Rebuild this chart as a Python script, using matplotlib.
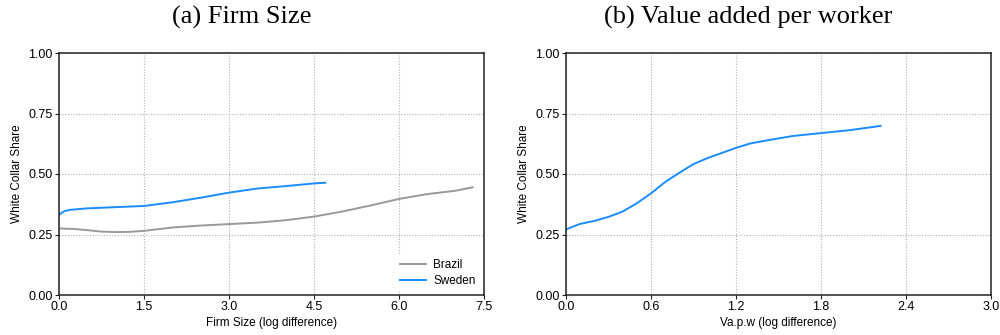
import matplotlib
matplotlib.use("Agg")
import matplotlib.pyplot as plt

# Panel (a): Firm size
brazil_x = [0.0, 0.25, 0.5, 0.75, 1.0, 1.25, 1.5, 1.75, 2.0, 2.5, 3.0, 3.5, 4.0, 4.5, 5.0, 5.5, 6.0, 6.5, 7.0, 7.3]
brazil_y = [0.275, 0.273, 0.268, 0.262, 0.260, 0.261, 0.265, 0.272, 0.279, 0.287, 0.293, 0.299, 0.309, 0.324, 0.345, 0.370, 0.397, 0.417, 0.431, 0.445]
sweden_x = [0.0, 0.05, 0.1, 0.2, 0.5, 1.0, 1.5, 2.0, 2.5, 3.0, 3.5, 4.0, 4.5, 4.7]
sweden_y = [0.331, 0.340, 0.347, 0.352, 0.358, 0.363, 0.368, 0.383, 0.402, 0.423, 0.440, 0.450, 0.461, 0.464]

# Panel (b): Value added per worker
vapw_x = [0.0, 0.1, 0.2, 0.3, 0.4, 0.5, 0.6, 0.7, 0.8, 0.9, 1.0, 1.1, 1.2, 1.3, 1.4, 1.5, 1.6, 1.8, 2.0, 2.2, 2.22]
vapw_y = [0.271, 0.294, 0.306, 0.323, 0.345, 0.379, 0.420, 0.467, 0.505, 0.541, 0.566, 0.587, 0.608, 0.626, 0.637, 0.647, 0.657, 0.669, 0.681, 0.697, 0.699]

titles = ["(a) Firm Size", "(b) Value added per worker"]
xlabels = ["Firm Size (log difference)", "Va.p.w (log difference)"]
xticks_a = [0.0, 1.5, 3.0, 4.5, 6.0, 7.5]
xticks_b = [0.0, 0.6, 1.2, 1.8, 2.4, 3.0]
yticks = [0.0, 0.25, 0.5, 0.75, 1.0]

BLUE = "#1a8cff"
GRAY = "#999999"

plt.rcParams['font.family'] = ['Liberation Sans', 'DejaVu Sans']

fig = plt.figure(figsize=(10, 3.35), dpi=100)
W, H = 1000, 335
ax1 = fig.add_axes([59/W, 1-295/H, (484-59)/W, (295-53)/H])
ax2 = fig.add_axes([566/W, 1-295/H, (991-566)/W, (295-53)/H])

ax1.plot(brazil_x, brazil_y, color=GRAY, lw=1.4, label="Brazil")
ax1.plot(sweden_x, sweden_y, color=BLUE, lw=1.4, label="Sweden")
ax2.plot(vapw_x, vapw_y, color=BLUE, lw=1.4)

for ax, xl, xt in [(ax1, xlabels[0], xticks_a), (ax2, xlabels[1], xticks_b)]:
    ax.set_xlim(xt[0], xt[-1])
    ax.set_ylim(0, 1)
    ax.set_xticks(xt)
    ax.set_xticklabels([f"{v:.1f}" for v in xt])
    ax.set_yticks(yticks)
    ax.set_yticklabels([f"{v:.2f}" for v in yticks])
    ax.grid(True, color="#b0b0b0", linestyle=(0, (1, 1.5)), linewidth=0.8)
    ax.set_axisbelow(True)
    ax.tick_params(direction="out", length=3, width=0.8, labelsize=9, pad=1.5, color="#222222")
    for s in ax.spines.values():
        s.set_linewidth(1.1)
        s.set_color("#222222")
    ax.set_xlabel(xl, fontsize=8.5, labelpad=3)
    ax.set_ylabel("White Collar Share", fontsize=8.5, labelpad=4)

fig.text(242/W, 1-24/H, titles[0], fontsize=19, family="Liberation Serif", ha="center", va="baseline")
fig.text(748/W, 1-24/H, titles[1], fontsize=19, family="Liberation Serif", ha="center", va="baseline")

leg = ax1.legend(loc="lower right", frameon=True, fontsize=8.5, handlelength=2.2,
                 borderaxespad=0.3, labelspacing=0.3, handletextpad=0.6)
leg.get_frame().set_edgecolor("none")
leg.get_frame().set_facecolor("white")
leg.get_frame().set_alpha(1)

fig.savefig("out.png", dpi=100)
